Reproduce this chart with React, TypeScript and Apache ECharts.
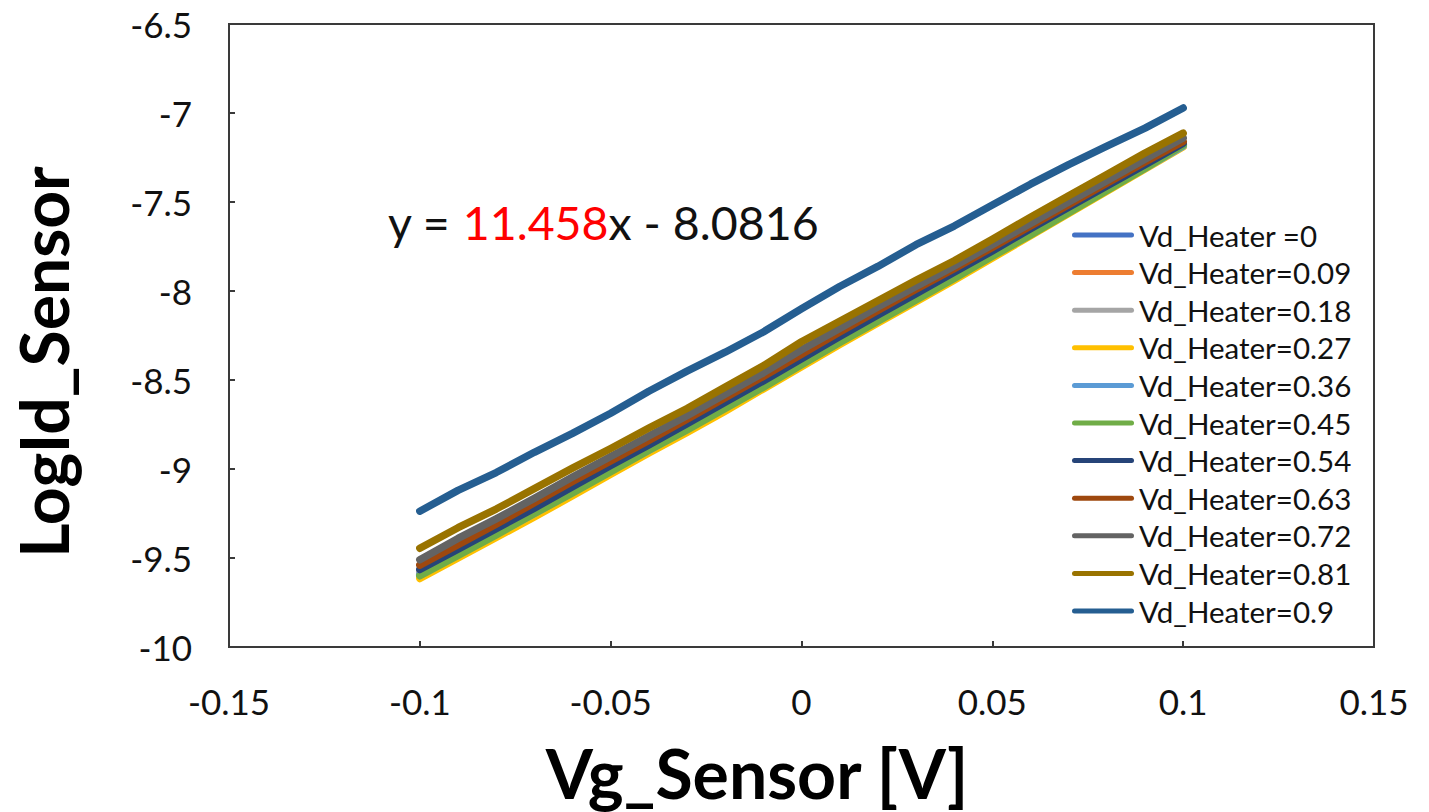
import React, { useEffect, useRef } from "react";
import * as echarts from "echarts";

const xValues = [-0.1, -0.09, -0.08, -0.07, -0.06, -0.05, -0.04, -0.03, -0.02, -0.01, 0, 0.01, 0.02, 0.03, 0.04, 0.05, 0.06, 0.07, 0.08, 0.09, 0.1];

const seriesNames = [
  "Vd_Heater =0",
  "Vd_Heater=0.09",
  "Vd_Heater=0.18",
  "Vd_Heater=0.27",
  "Vd_Heater=0.36",
  "Vd_Heater=0.45",
  "Vd_Heater=0.54",
  "Vd_Heater=0.63",
  "Vd_Heater=0.72",
  "Vd_Heater=0.81",
  "Vd_Heater=0.9",
];

const seriesColors = ["#4472C4", "#ED7D31", "#A5A5A5", "#FFC000", "#5B9BD5", "#70AD47", "#264478", "#9E480E", "#636363", "#997300", "#255E91"];

const h000 = [-9.575, -9.46, -9.35, -9.235, -9.115, -8.995, -8.88, -8.765, -8.645, -8.525, -8.4, -8.275, -8.155, -8.035, -7.915, -7.795, -7.67, -7.545, -7.425, -7.3, -7.175];
const h009 = [-9.585, -9.47, -9.355, -9.24, -9.12, -9.0, -8.885, -8.77, -8.65, -8.53, -8.405, -8.28, -8.16, -8.04, -7.92, -7.8, -7.675, -7.55, -7.43, -7.305, -7.18];
const h018 = [-9.58, -9.465, -9.35, -9.235, -9.115, -8.995, -8.88, -8.76, -8.645, -8.525, -8.4, -8.275, -8.155, -8.035, -7.915, -7.79, -7.67, -7.545, -7.425, -7.3, -7.175];
const h027 = [-9.615, -9.5, -9.385, -9.27, -9.15, -9.03, -8.91, -8.795, -8.675, -8.55, -8.425, -8.3, -8.18, -8.06, -7.94, -7.815, -7.69, -7.565, -7.44, -7.315, -7.19];
const h036 = [-9.595, -9.48, -9.365, -9.25, -9.13, -9.01, -8.895, -8.775, -8.655, -8.535, -8.41, -8.285, -8.165, -8.045, -7.925, -7.8, -7.68, -7.555, -7.43, -7.31, -7.185];
const h045 = [-9.6, -9.485, -9.37, -9.25, -9.135, -9.015, -8.895, -8.78, -8.66, -8.54, -8.415, -8.29, -8.17, -8.05, -7.93, -7.805, -7.685, -7.56, -7.435, -7.31, -7.18];
const h054 = [-9.565, -9.45, -9.335, -9.22, -9.1, -8.98, -8.865, -8.745, -8.625, -8.505, -8.38, -8.255, -8.135, -8.015, -7.895, -7.775, -7.65, -7.53, -7.41, -7.29, -7.17];
const h063 = [-9.54, -9.425, -9.31, -9.19, -9.07, -8.955, -8.84, -8.72, -8.6, -8.48, -8.355, -8.23, -8.11, -7.99, -7.875, -7.755, -7.635, -7.515, -7.395, -7.275, -7.16];
const h072 = [-9.51, -9.39, -9.28, -9.165, -9.045, -8.93, -8.815, -8.7, -8.58, -8.46, -8.33, -8.21, -8.09, -7.975, -7.86, -7.74, -7.62, -7.5, -7.38, -7.26, -7.14];
const h081 = [-9.445, -9.33, -9.225, -9.11, -8.995, -8.885, -8.77, -8.66, -8.54, -8.42, -8.285, -8.17, -8.055, -7.94, -7.83, -7.71, -7.585, -7.465, -7.345, -7.225, -7.113];
const h090 = [-9.237, -9.12, -9.02, -8.906, -8.8, -8.687, -8.563, -8.45, -8.344, -8.23, -8.1, -7.975, -7.862, -7.74, -7.635, -7.517, -7.4, -7.29, -7.186, -7.085, -6.972];

const seriesValues = [h000, h009, h018, h027, h036, h045, h054, h063, h072, h081, h090];

const xTitle = "Vg_Sensor [V]";
const yTitle = "LogId_Sensor";
const eqPrefix = "y = ";
const eqSlope = "11.458";
const eqRest = "x - 8.0816";

const FONT = "Lato, 'Open Sans', sans-serif";
const LEGEND_ICON = "path://M2.5,0 L59.5,0 A2.5,2.5 0 0 1 59.5,5 L2.5,5 A2.5,2.5 0 0 1 2.5,0 Z";

export default function App() {
  const ref = useRef<HTMLDivElement>(null);
  useEffect(() => {
    if (!ref.current) return;
    const chart = echarts.init(ref.current, undefined, { renderer: "svg" });
    const fmt = (v: number) => String(parseFloat(v.toFixed(3)));
    chart.setOption({
      animation: false,
      backgroundColor: "#ffffff",
      textStyle: { fontFamily: FONT },
      grid: {
        left: 229,
        top: 24,
        right: 55,
        bottom: 165,
        show: true,
        borderColor: "#3a3a3a",
        borderWidth: 2,
        backgroundColor: "transparent",
      },
      xAxis: {
        type: "value",
        min: -0.15,
        max: 0.15,
        interval: 0.05,
        splitLine: { show: false },
        axisLine: { show: true, onZero: false, lineStyle: { color: "#3a3a3a", width: 2 } },
        axisTick: { show: true, inside: true, length: 6, lineStyle: { color: "#3a3a3a", width: 2 } },
        axisLabel: { color: "#111", fontSize: 35, fontFamily: FONT, margin: 36, formatter: fmt },
      },
      yAxis: {
        type: "value",
        min: -10,
        max: -6.5,
        interval: 0.5,
        splitLine: { show: false },
        axisLine: { show: true, onZero: false, lineStyle: { color: "#3a3a3a", width: 2 } },
        axisTick: { show: true, inside: true, length: 6, lineStyle: { color: "#3a3a3a", width: 2 } },
        axisLabel: { color: "#111", fontSize: 35, fontFamily: FONT, margin: 37, formatter: fmt },
      },
      legend: {
        orient: "vertical",
        left: 1067,
        top: 215,
        icon: LEGEND_ICON,
        itemWidth: 62,
        itemHeight: 30,
        itemGap: 7.6,
        textStyle: { color: "#111", fontSize: 29.5, fontFamily: FONT, lineHeight: 30 },
        data: seriesNames,
      },
      series: seriesNames.map((name, i) => ({
        name,
        type: "line",
        symbol: "none",
        showSymbol: false,
        color: seriesColors[i],
        itemStyle: { color: seriesColors[i] },
        lineStyle: { width: 7.5, color: seriesColors[i], cap: "round", join: "round" },
        data: xValues.map((x, j) => [x, seriesValues[i][j]]),
        z: 2 + i,
      })),
      graphic: [
        {
          type: "text",
          x: 757,
          y: 772,
          style: {
            text: xTitle,
            fontSize: 68,
            fontWeight: "bold",
            fontFamily: FONT,
            fill: "#000",
            align: "center",
            verticalAlign: "middle",
          },
        },
        {
          type: "text",
          x: 43,
          y: 362,
          rotation: Math.PI / 2,
          style: {
            text: yTitle,
            fontSize: 66,
            fontWeight: "bold",
            fontFamily: FONT,
            fill: "#000",
            align: "center",
            verticalAlign: "middle",
          },
        },
        {
          type: "text",
          x: 388,
          y: 222,
          style: {
            text: "{a|" + eqPrefix + "}{b|" + eqSlope + "}{a|" + eqRest + "}",
            verticalAlign: "middle",
            align: "left",
            rich: {
              a: { fontSize: 46.5, fontFamily: FONT, fill: "#111", color: "#111" },
              b: { fontSize: 46.5, fontFamily: FONT, fill: "#ff0000", color: "#ff0000" },
            },
          },
        },
      ],
    });
    return () => chart.dispose();
  }, []);
  return <div ref={ref} style={{ position: "fixed", left: 0, top: 0, width: 1429, height: 812 }} />;
}
